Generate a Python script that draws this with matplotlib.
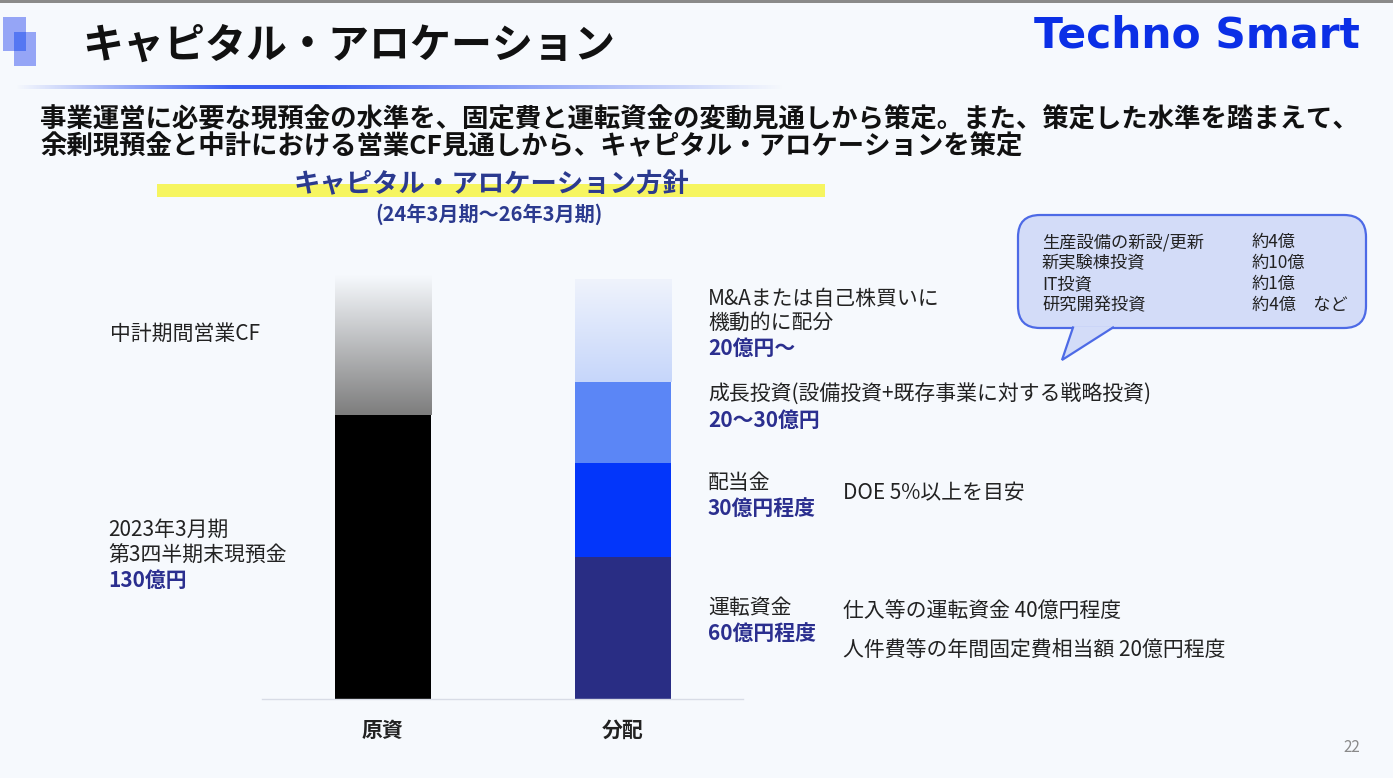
import numpy as np
import matplotlib
matplotlib.use("Agg")
import matplotlib.pyplot as plt
from matplotlib.colors import LinearSegmentedColormap, to_rgb
from matplotlib.patches import FancyBboxPatch, Polygon, Rectangle

plt.rcParams['font.family'] = ['Noto Sans CJK JP', 'DejaVu Sans']

# ---------------- data ----------------
categories = ['原資', '分配']
# 原資: 現預金 (solid), 中計期間営業CF (gradient)
source_labels = ['第3四半期末現預金', '中計期間営業CF']
source_values = [130, 64]
# 分配 (bottom -> top): 運転資金, 配当金, 成長投資, M&A/自己株買い (gradient)
alloc_labels = ['運転資金', '配当金', '成長投資', 'M&A・自己株買い']
alloc_values = [65, 43, 37, 47]

BG = '#f6f9fd'
NAVY_TXT = '#2b2f8f'
W, H = 1393, 778

fig = plt.figure(figsize=(W / 100, H / 100), dpi=100)
fig.patch.set_facecolor(BG)

# ---------------- chart axes ----------------
base_px, top_px = 699, 265
px_per_unit = 284 / 130.0
ax = fig.add_axes([262 / W, 1 - base_px / H, (743 - 262) / W, (base_px - top_px) / H])
ax.set_facecolor('none')
x = np.arange(len(categories))
bw = 0.4


def grad_bar(ax, xc, bottom, height, c_bottom, c_top):
    cmap = LinearSegmentedColormap.from_list('g', [c_bottom, c_top])
    arr = np.linspace(0, 1, 256).reshape(-1, 1)
    ax.imshow(arr, cmap=cmap, origin='lower', aspect='auto',
              extent=[xc - bw / 2, xc + bw / 2, bottom, bottom + height],
              interpolation='bilinear', zorder=2)


# 原資
ax.bar(x[0], source_values[0], width=bw, color='#000000', zorder=2)
grad_bar(ax, x[0], source_values[0], source_values[1], '#7d7d7d', BG)

# 分配
alloc_colors = ['#292d84', '#0336fa', '#5b86f6']
bottom = 0
for v, c in zip(alloc_values[:3], alloc_colors):
    ax.bar(x[1], v, width=bw, bottom=bottom, color=c, zorder=2)
    bottom += v
grad_bar(ax, x[1], bottom, alloc_values[3], '#c6d6fa', '#eff3fc')

ax.set_xlim(-0.502, 1.499)
ax.set_ylim(0, (base_px - top_px) / px_per_unit)
for s in ['top', 'right', 'left']:
    ax.spines[s].set_visible(False)
ax.spines['bottom'].set_color('#d8dce6')
ax.spines['bottom'].set_linewidth(1.0)
ax.set_yticks([])
ax.set_xticks(x)
ax.set_xticklabels(categories, fontsize=15, fontweight='bold', color='#222222')
ax.tick_params(axis='x', length=0, pad=15)

# ---------------- overlay (pixel coords) ----------------
ov = fig.add_axes([0, 0, 1, 1])
ov.set_xlim(0, W)
ov.set_ylim(H, 0)
ov.axis('off')
ov.set_facecolor('none')

# top border
ov.add_patch(Rectangle((0, 0), W, 2.5, color='#8a8a8a', lw=0))

# logo squares
ov.add_patch(Rectangle((3, 17), 23, 34, color='#95a5f6', lw=0))
ov.add_patch(Rectangle((14, 32), 22, 34, color='#95a5f6', lw=0))
ov.add_patch(Rectangle((14, 32), 12, 19, color='#5577f2', lw=0))

# title
ov.text(82, 46, 'キャピタル・アロケーション', fontsize=29.5, fontweight='bold',
        color='#111111', va='center', ha='left')

# title underline gradient
xs = np.linspace(15, 785, 400)
alpha = np.interp(xs, [15, 230, 320, 785], [0, 1, 1, 0])
rgba = np.zeros((1, len(xs), 4))
rgba[..., :3] = to_rgb('#3d5ff2')
rgba[..., 3] = alpha
ov.imshow(rgba, extent=[15, 785, 89, 85], aspect='auto', interpolation='bilinear')

# company logo
ov.text(1360, 35, 'Techno Smart', fontsize=30.5, fontweight='bold', color='#0b2fe6',
        va='center', ha='right', family='DejaVu Sans')

# headline
ov.text(40, 120, '事業運営に必要な現預金の水準を、固定費と運転資金の変動見通しから策定。また、策定した水準を踏まえて、',
        fontsize=19, fontweight='bold', color='#111111', va='center', ha='left')
ov.text(40, 147, '余剰現預金と中計における営業CF見通しから、キャピタル・アロケーションを策定',
        fontsize=19, fontweight='bold', color='#111111', va='center', ha='left')

# section heading with yellow band
ov.add_patch(Rectangle((157, 184), 668, 13, color='#f6f560', lw=0))
ov.text(491, 185, 'キャピタル・アロケーション方針', fontsize=19, fontweight='bold',
        color='#2b3a8f', va='center', ha='center')
ov.text(489, 214, '(24年3月期～26年3月期)', fontsize=14.5, fontweight='bold',
        color='#2b3a8f', va='center', ha='center')

# callout bubble
bub_fc, bub_ec = '#d3dcf8', '#4d6ae6'
ov.add_patch(FancyBboxPatch((1018, 215), 348, 113, boxstyle='round,pad=0,rounding_size=22',
                            fc=bub_fc, ec=bub_ec, lw=1.6))
ov.add_patch(Polygon([(1073, 326.5), (1062, 360), (1113, 326.5)], closed=True,
                     fc=bub_fc, ec='none'))
ov.plot([1073, 1062, 1113], [327.5, 360, 327.5], color=bub_ec, lw=1.6,
        solid_joinstyle='miter')
bubble_rows = [('生産設備の新設/更新', '約4億'), ('新実験棟投資', '約10億'),
               ('IT投資', '約1億'), ('研究開発投資', '約4億\u3000など')]
for i, (a, b) in enumerate(bubble_rows):
    yy = 242 + i * 21
    ov.text(1042, yy, a, fontsize=12.4, color='#222222', va='center', ha='left')
    ov.text(1252, yy, b, fontsize=12.4, color='#222222', va='center', ha='left')

# left labels
FS = 15
ov.text(110, 334, source_labels[1], fontsize=FS, color='#222222', va='center')
ov.text(108, 530, '2023年3月期', fontsize=FS, color='#222222', va='center')
ov.text(108, 556, source_labels[0], fontsize=FS, color='#222222', va='center')
ov.text(108, 580, f'{source_values[0]}億円', fontsize=FS, fontweight='bold',
        color=NAVY_TXT, va='center')

# right labels
RX = 708
ov.text(RX, 299, 'M&Aまたは自己株買いに', fontsize=FS, color='#222222', va='center')
ov.text(RX, 323, '機動的に配分', fontsize=FS, color='#222222', va='center')
ov.text(RX, 348, '20億円～', fontsize=FS, fontweight='bold', color=NAVY_TXT, va='center')

ov.text(RX, 395, '成長投資(設備投資+既存事業に対する戦略投資)', fontsize=FS,
        color='#222222', va='center')
ov.text(RX, 420, '20～30億円', fontsize=FS, fontweight='bold', color=NAVY_TXT, va='center')

ov.text(RX, 483, '配当金', fontsize=FS, color='#222222', va='center')
ov.text(RX, 508, '30億円程度', fontsize=FS, fontweight='bold', color=NAVY_TXT, va='center')
ov.text(843, 493, 'DOE 5%以上を目安', fontsize=FS, color='#222222', va='center')

ov.text(RX, 608, '運転資金', fontsize=FS, color='#222222', va='center')
ov.text(RX, 633, '60億円程度', fontsize=FS, fontweight='bold', color=NAVY_TXT, va='center')
ov.text(843, 611, '仕入等の運転資金 40億円程度', fontsize=FS, color='#222222', va='center')
ov.text(843, 650, '人件費等の年間固定費相当額 20億円程度', fontsize=FS, color='#222222',
        va='center')

# page number
ov.text(1352, 748, '22', fontsize=11, color='#8a8a8a', va='center', ha='center')

fig.savefig('out.png', dpi=100, facecolor=BG)
